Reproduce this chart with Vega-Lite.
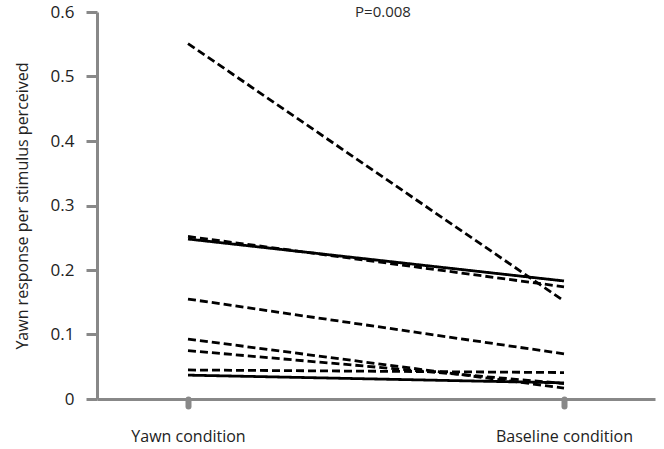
{
  "$schema": "https://vega.github.io/schema/vega-lite/v6.json",
  "autosize": {"type": "none"},
  "width": 558,
  "height": 387,
  "padding": {"left": 97, "top": 12, "right": 9, "bottom": 50},
  "background": "white",
  "title": {"text": "P=0.008", "anchor": "middle", "frame": "group", "offset": -17, "dx": 7, "font": "Open Sans", "fontSize": 15, "fontWeight": "normal", "color": "#2a2a2a"},
  "data": {"values": [
    {"id": 1, "style": "dashed", "cond": "Yawn condition", "v": 0.551},
    {"id": 1, "style": "dashed", "cond": "Baseline condition", "v": 0.152},
    {"id": 2, "style": "solid", "cond": "Yawn condition", "v": 0.248},
    {"id": 2, "style": "solid", "cond": "Baseline condition", "v": 0.183},
    {"id": 3, "style": "dashed", "cond": "Yawn condition", "v": 0.252},
    {"id": 3, "style": "dashed", "cond": "Baseline condition", "v": 0.174},
    {"id": 4, "style": "dashed", "cond": "Yawn condition", "v": 0.155},
    {"id": 4, "style": "dashed", "cond": "Baseline condition", "v": 0.070},
    {"id": 5, "style": "dashed", "cond": "Yawn condition", "v": 0.093},
    {"id": 5, "style": "dashed", "cond": "Baseline condition", "v": 0.017},
    {"id": 6, "style": "dashed", "cond": "Yawn condition", "v": 0.075},
    {"id": 6, "style": "dashed", "cond": "Baseline condition", "v": 0.024},
    {"id": 7, "style": "dashed", "cond": "Yawn condition", "v": 0.045},
    {"id": 7, "style": "dashed", "cond": "Baseline condition", "v": 0.041},
    {"id": 8, "style": "solid", "cond": "Yawn condition", "v": 0.037},
    {"id": 8, "style": "solid", "cond": "Baseline condition", "v": 0.025}
  ]},
  "mark": {"type": "line", "color": "black", "strokeWidth": 2.8},
  "encoding": {
    "x": {"field": "cond", "type": "nominal", "sort": ["Yawn condition", "Baseline condition"],
      "scale": {"type": "point", "padding": 0.242},
      "axis": {"title": null, "labelAngle": 0, "domainColor": "#888888", "domainWidth": 3, "tickColor": "#888888", "tickWidth": 6, "tickSize": 7, "tickCap": "round", "labelPadding": 22, "labelFont": "Open Sans", "labelFontSize": 16, "labelColor": "#222222", "grid": false}},
    "y": {"field": "v", "type": "quantitative", "scale": {"domain": [0, 0.6], "nice": false},
      "axis": {"values": [0, 0.1, 0.2, 0.3, 0.4, 0.5, 0.6], "format": ".1~f", "title": "Yawn response per stimulus perceived", "titleFont": "Open Sans", "titleFontSize": 16, "titleFontWeight": "normal", "titleColor": "#222222", "titlePadding": 20, "grid": false, "domainColor": "#888888", "domainWidth": 3, "tickColor": "#888888", "tickWidth": 3, "tickSize": 11, "labelPadding": 12, "labelFont": "Open Sans", "labelFontSize": 17, "labelColor": "#222222"}},
    "detail": {"field": "id"},
    "strokeDash": {"field": "style", "type": "nominal", "scale": {"domain": ["dashed", "solid"], "range": [[8, 4], [1, 0]]}, "legend": null}
  },
  "config": {"view": {"stroke": null}}
}
